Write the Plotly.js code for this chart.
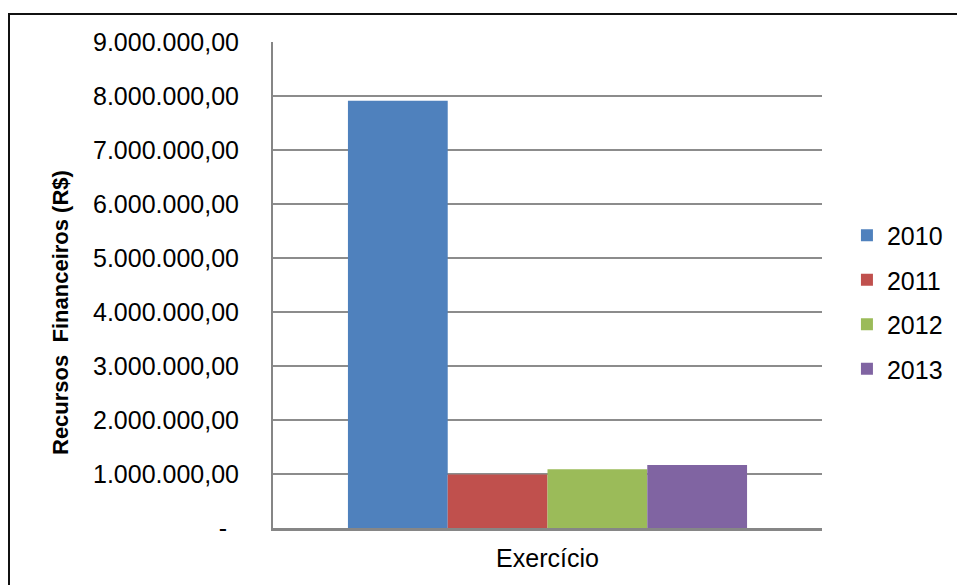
<!DOCTYPE html>
<html>
<head>
<meta charset="utf-8">
<script src="https://cdn.plot.ly/plotly-3.0.1.min.js"></script>
<style>
  html, body { margin: 0; padding: 0; background: #fff; }
  #wrap { position: relative; width: 957px; height: 585px; overflow: hidden; }
  #chart { position: absolute; left: 0; top: 0; width: 957px; height: 585px; }
  #frame { position: absolute; left: 8px; top: 13px; width: 1000px; height: 700px;
           border-left: 2px solid #111; border-top: 2px solid #111; pointer-events: none; }
</style>
</head>
<body>
<div id="wrap">
  <div id="chart"></div>
  <div id="frame"></div>
</div>
<script>
const category = ['Exercício'];
const years = ['2010', '2011', '2012', '2013'];
const values = [7910000, 990000, 1090000, 1165000];
const colors = ['#4F81BD', '#C0504D', '#9BBB59', '#8064A2'];
const tickVals = [0, 1000000, 2000000, 3000000, 4000000, 5000000, 6000000, 7000000, 8000000, 9000000];
const tickText = ['-\u00a0\u2009', '1.000.000,00', '2.000.000,00', '3.000.000,00', '4.000.000,00',
  '5.000.000,00', '6.000.000,00', '7.000.000,00', '8.000.000,00', '9.000.000,00'];
const yTitle = 'Recursos  Financeiros (R$)';

const font = 'Arial, "Liberation Sans", sans-serif';

const traces = years.map((y, i) => ({
  type: 'bar',
  name: y,
  x: category,
  y: [values[i]],
  marker: { color: colors[i], line: { width: 0 } },
  hoverinfo: 'skip',
  legendgroup: y
}));

const layout = {
  width: 957, height: 585,
  margin: { l: 273, r: 135, t: 42, b: 57, pad: 0, autoexpand: false },
  paper_bgcolor: '#ffffff',
  plot_bgcolor: '#ffffff',
  barmode: 'group',
  bargap: 0.273,
  bargroupgap: 0,
  showlegend: true,
  legend: {
    xref: 'container', yref: 'container',
    x: 0.885, xanchor: 'left',
    y: 1 - 302 / 585, yanchor: 'middle',
    font: { family: font, size: 25, color: '#000' },
    tracegroupgap: 9,
    itemwidth: 30,
    bgcolor: 'rgba(0,0,0,0)'
  },
  annotations: [{
    text: '<b>' + yTitle + '</b>',
    xref: 'paper', yref: 'paper',
    x: (60 - 273) / 549, y: (528 - 313) / 486,
    xanchor: 'center', yanchor: 'middle',
    textangle: -90, showarrow: false,
    font: { family: font, size: 22, color: '#000' }
  }],
  xaxis: {
    type: 'category',
    showline: true, linecolor: '#868686', linewidth: 3,
    showgrid: false, zeroline: false,
    ticks: 'outside', ticklen: 6, tickcolor: 'rgba(0,0,0,0)',
    tickfont: { family: font, size: 25, color: '#000' },
    automargin: false,
    fixedrange: true
  },
  yaxis: {
    range: [0, 9000000],
    tickmode: 'array', tickvals: tickVals, ticktext: tickText,
    showline: true, linecolor: '#868686', linewidth: 2,
    showgrid: true, gridcolor: '#8c8c8c', gridwidth: 1.5,
    zeroline: false,
    ticks: 'outside', ticklen: 27, tickcolor: 'rgba(0,0,0,0)',
    tickfont: { family: font, size: 25, color: '#000' },
    automargin: false,
    fixedrange: true
  }
};

Plotly.newPlot('chart', traces, layout, { displayModeBar: false, staticPlot: true });
</script>
</body>
</html>
